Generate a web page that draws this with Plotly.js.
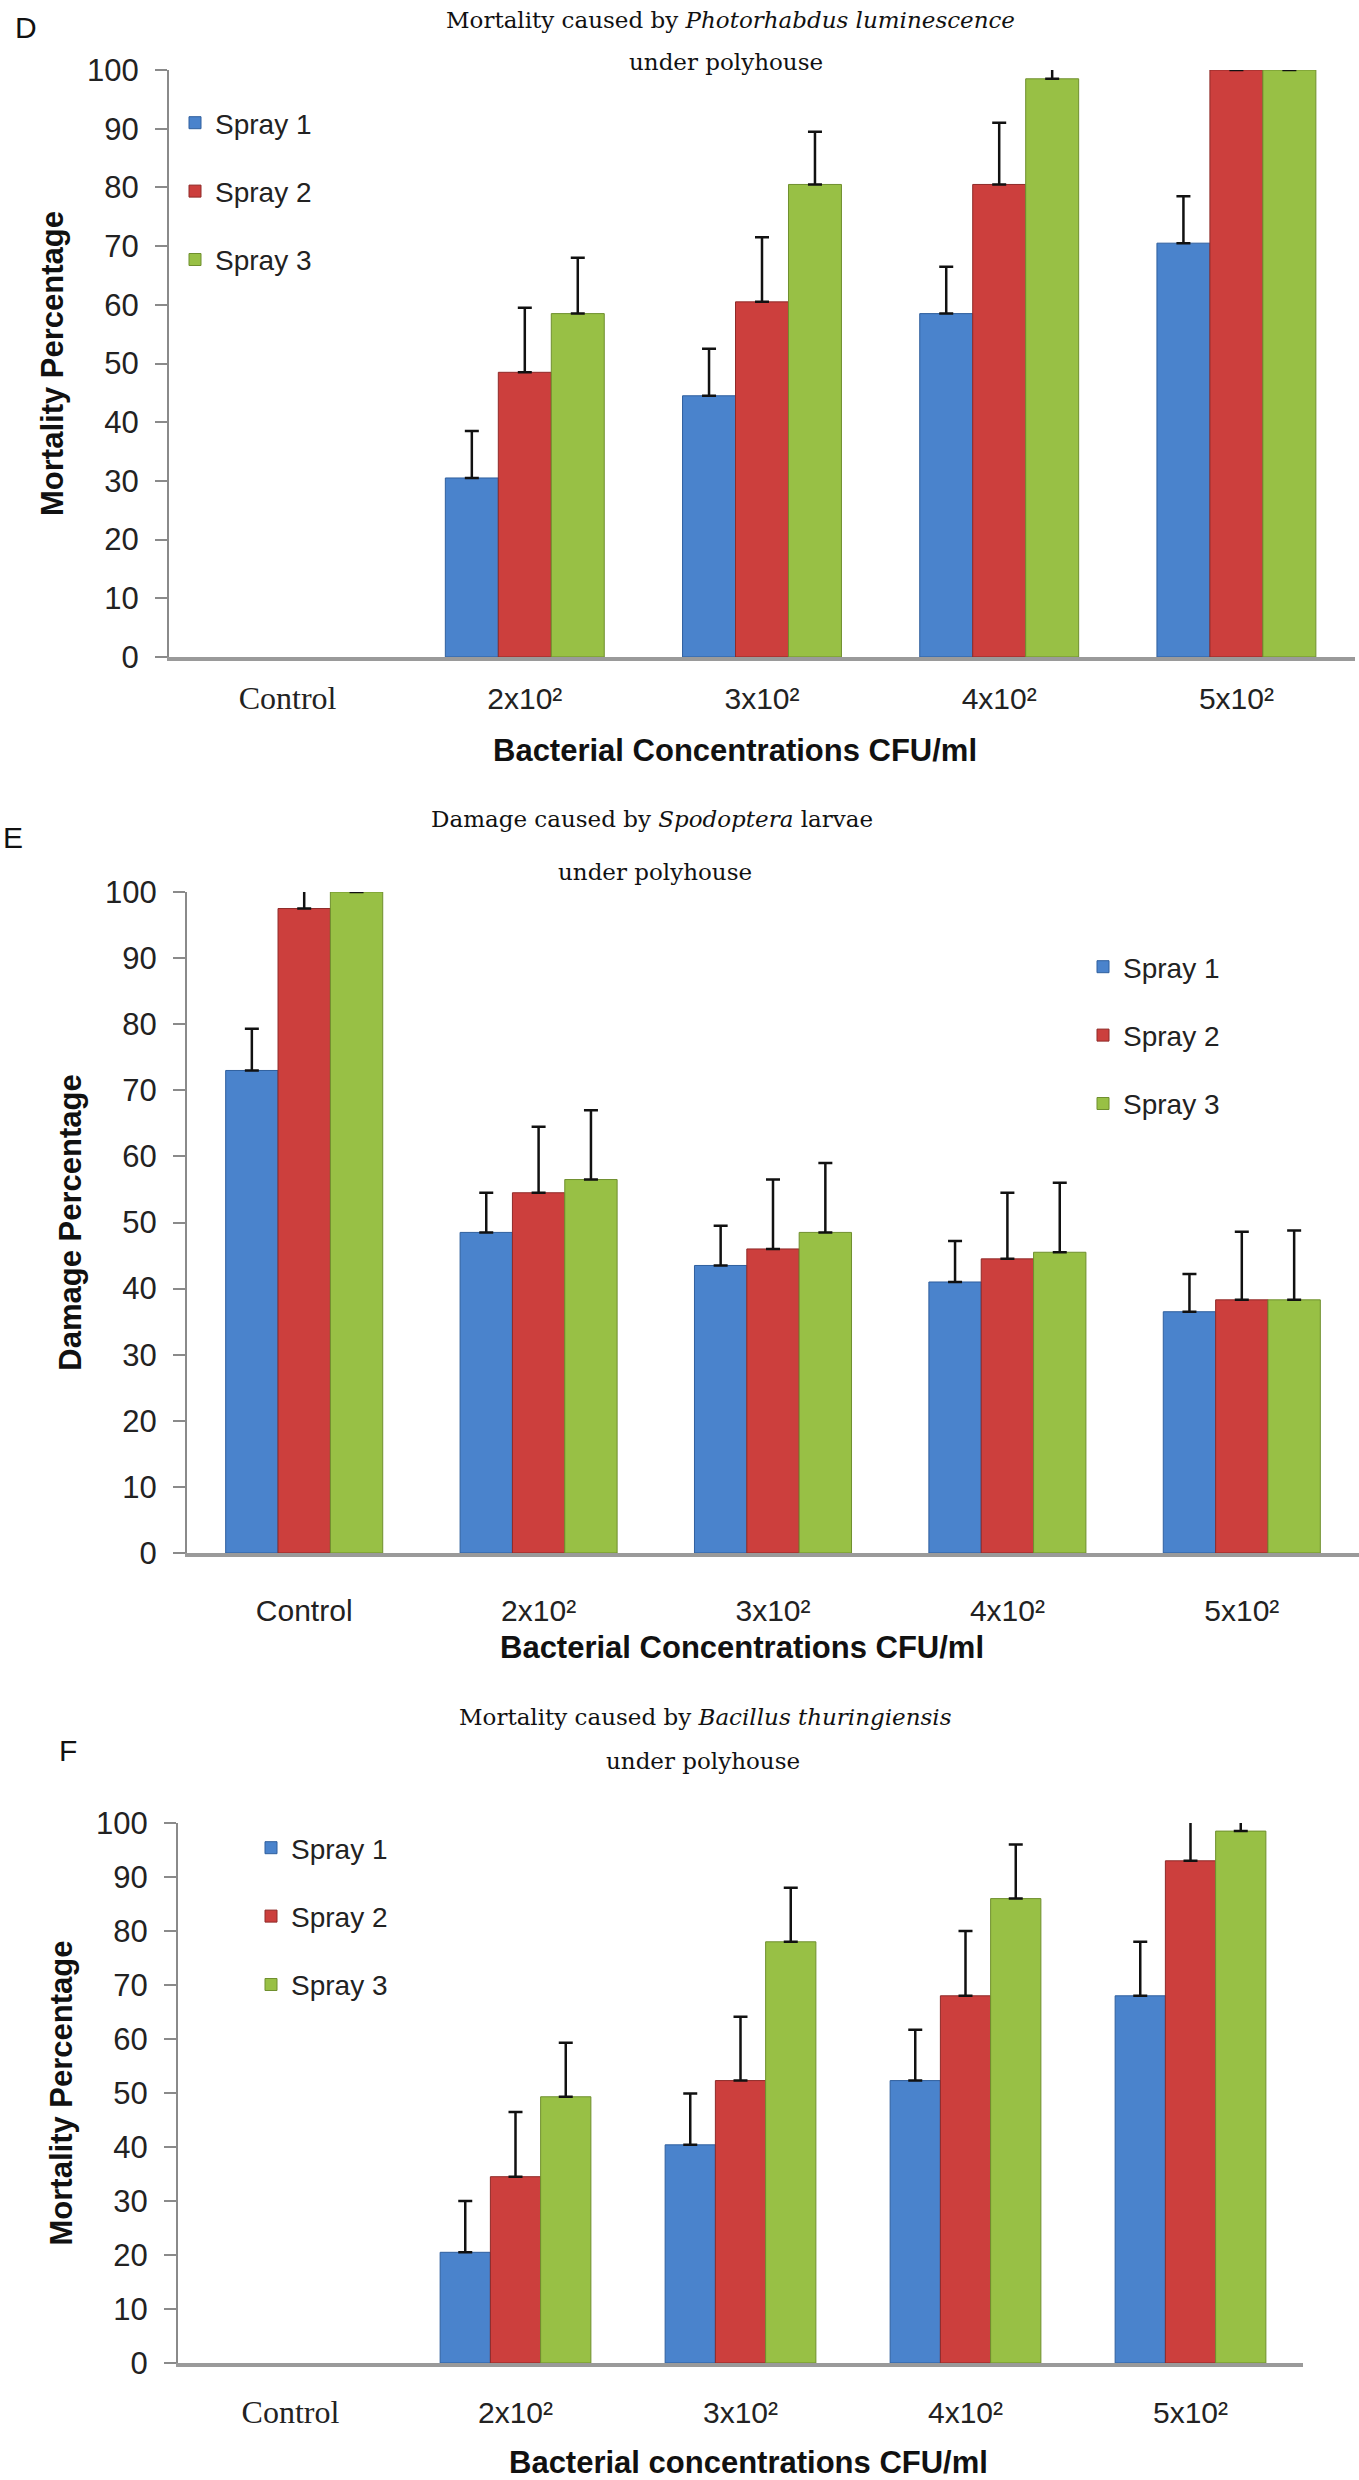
<!DOCTYPE html>
<html>
<head>
<meta charset="utf-8">
<script src="https://cdn.plot.ly/plotly-3.0.1.min.js"></script>
<style>
  body { margin: 0; background: #fff; }
  #chart { width: 1359px; height: 2480px; }
</style>
</head>
<body>
<div id="chart"></div>
<script>
// categories (bacterial concentration, CFU/ml)
var categories = ["Control", "2x10²", "3x10²", "4x10²", "5x10²"];
var tickLabelsD = ["<span style='font-family:Liberation Serif;font-size:32px'>Control</span>", "2x10²", "3x10²", "4x10²", "5x10²"];
var tickLabelsE = ["Control", "2x10²", "3x10²", "4x10²", "5x10²"];
var seriesNames = ["Spray 1", "Spray 2", "Spray 3"];

// D - mortality, Photorhabdus luminescence (control: no bar)
var photoSpray1 = [null, 30.5, 44.5, 58.5, 70.5];
var photoSpray2 = [null, 48.5, 60.5, 80.5, 100];
var photoSpray3 = [null, 58.5, 80.5, 98.5, 100];
var photoErr1 = [0, 8, 8, 8, 8];
var photoErr2 = [0, 11, 11, 10.5, 1];
var photoErr3 = [0, 9.5, 9, 2, 1];

// E - damage, Spodoptera larvae
var spodSpray1 = [73, 48.5, 43.5, 41, 36.5];
var spodSpray2 = [97.5, 54.5, 46, 44.5, 38.3];
var spodSpray3 = [100, 56.5, 48.5, 45.5, 38.3];
var spodErr1 = [6.3, 6, 6, 6.2, 5.7];
var spodErr2 = [3, 10, 10.5, 10, 10.3];
var spodErr3 = [1, 10.5, 10.5, 10.5, 10.5];

// F - mortality, Bacillus thuringiensis (control: no bar)
var btSpray1 = [null, 20.5, 40.4, 52.3, 68];
var btSpray2 = [null, 34.5, 52.3, 68, 93];
var btSpray3 = [null, 49.3, 78, 86, 98.5];
var btErr1 = [0, 9.5, 9.5, 9.4, 10];
var btErr2 = [0, 12, 11.8, 12, 8];
var btErr3 = [0, 10, 10, 10, 2];

var colors = ["#4a83cc", "#cc3f3d", "#98c045"];
var lineColors = ["#2f5f9e", "#8f2a28", "#6f8f2e"];

var W = 1359, H = 2480;
function fx(p) { return p / W; }
function fy(p) { return 1 - p / H; }

var sansFont = "Liberation Sans, Arial, sans-serif";
var serifFont = "DejaVu Serif, Liberation Serif, serif";

function barTrace(name, idx, vals, errs, xa, ya, leg) {
	return {
		type: "bar",
		name: name,
		x: categories,
		y: vals,
		xaxis: xa,
		yaxis: ya,
		legend: leg,
		legendgroup: leg + name,
		marker: { color: colors[idx], line: { color: lineColors[idx], width: 1 } },
		error_y: { type: "data", array: errs, symmetric: false, arrayminus: [0, 0, 0, 0, 0],
			color: "#111", thickness: 2.5, width: 7 }
	};
}

var data = [
	barTrace(seriesNames[0], 0, photoSpray1, photoErr1, "x", "y", "legend"),
	barTrace(seriesNames[1], 1, photoSpray2, photoErr2, "x", "y", "legend"),
	barTrace(seriesNames[2], 2, photoSpray3, photoErr3, "x", "y", "legend"),
	barTrace(seriesNames[0], 0, spodSpray1, spodErr1, "x2", "y2", "legend2"),
	barTrace(seriesNames[1], 1, spodSpray2, spodErr2, "x2", "y2", "legend2"),
	barTrace(seriesNames[2], 2, spodSpray3, spodErr3, "x2", "y2", "legend2"),
	barTrace(seriesNames[0], 0, btSpray1, btErr1, "x3", "y3", "legend3"),
	barTrace(seriesNames[1], 1, btSpray2, btErr2, "x3", "y3", "legend3"),
	barTrace(seriesNames[2], 2, btSpray3, btErr3, "x3", "y3", "legend3")
];

function xAxis(dom, anchor, labels, labelGap) {
	return {
		domain: dom, anchor: anchor,
		type: "category",
		tickvals: categories, ticktext: labels,
		ticks: "", showgrid: false, zeroline: false,
		showline: true, linecolor: "#9a9a9a", linewidth: 4,
		ticklabelstandoff: labelGap,
		tickfont: { family: sansFont, size: 30, color: "#222" },
		fixedrange: true
	};
}

function yAxis(dom, anchor, titleText) {
	return {
		domain: dom, anchor: anchor,
		range: [0, 100], dtick: 10,
		ticks: "outside", ticklen: 12, tickwidth: 2, tickcolor: "#8a8a8a",
		showline: true, linecolor: "#8a8a8a", linewidth: 2,
		showgrid: false, zeroline: false,
		ticklabelstandoff: 10,
		tickfont: { family: sansFont, size: 31, color: "#222" },
		title: { text: titleText, standoff: 14, font: { family: sansFont, size: 31, color: "#111", weight: "bold" } },
		fixedrange: true
	};
}

function legendBox(x, yTop) {
	return {
		x: fx(x), y: fy(yTop), xanchor: "left", yanchor: "top",
		bgcolor: "rgba(0,0,0,0)", tracegroupgap: 29,
		font: { family: sansFont, size: 28, color: "#222" },
		itemwidth: 30
	};
}

function note(text, x, y, size, family, bold) {
	return { text: text, xref: "paper", yref: "paper", x: fx(x), y: fy(y),
		xanchor: "center", yanchor: "middle", showarrow: false,
		font: { family: family, size: size, color: "#111", weight: bold ? "bold" : "normal" } };
}

var layout = {
	width: W, height: H,
	margin: { l: 0, r: 0, t: 0, b: 0 },
	paper_bgcolor: "#fff", plot_bgcolor: "#fff",
	barmode: "group", bargap: 0.33, bargroupgap: 0,
	showlegend: true,
	xaxis: xAxis([fx(169), fx(1355)], "y", tickLabelsD, 12),
	yaxis: yAxis([fy(657), fy(70)], "x", "Mortality Percentage"),
	xaxis2: xAxis([fx(187), fx(1359)], "y2", tickLabelsE, 28),
	yaxis2: yAxis([fy(1553), fy(892)], "x2", "Damage Percentage"),
	xaxis3: xAxis([fx(178), fx(1303)], "y3", tickLabelsD, 20),
	yaxis3: yAxis([fy(2363), fy(1823)], "x3", "Mortality Percentage"),
	legend: legendBox(175, 98),
	legend2: legendBox(1083, 942),
	legend3: legendBox(251, 1823),
	annotations: [
		note("D", 26, 28, 30, sansFont),
		note("Mortality caused by <i>Photorhabdus luminescence</i>", 730, 20, 23, serifFont),
		note("under polyhouse", 726, 62, 23, serifFont),
		note("Bacterial Concentrations CFU/ml", 735, 750, 31, sansFont, true),
		note("E", 13, 837, 30, sansFont),
		note("Damage caused by <i>Spodoptera</i> larvae", 652, 819, 23, serifFont),
		note("under polyhouse", 655, 872, 23, serifFont),
		note("Bacterial Concentrations CFU/ml", 742, 1647, 31, sansFont, true),
		note("F", 68, 1750, 30, sansFont),
		note("Mortality caused by <i>Bacillus thuringiensis</i>", 705, 1717, 23, serifFont),
		note("under polyhouse", 703, 1761, 23, serifFont),
		note("Bacterial concentrations CFU/ml", 748, 2462, 31, sansFont, true)
	]
};

Plotly.newPlot("chart", data, layout, { staticPlot: true });
</script>
</body>
</html>
